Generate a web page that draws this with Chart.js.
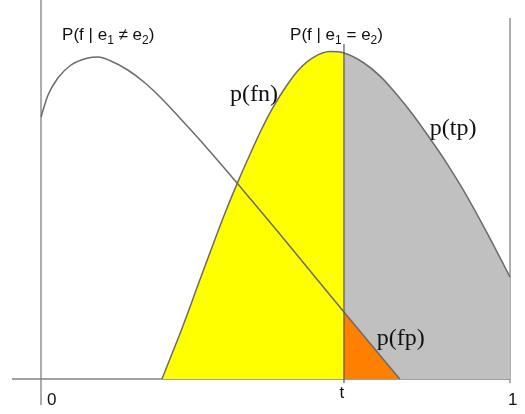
<!DOCTYPE html>
<html>
<head>
<meta charset="utf-8">
<script src="https://cdn.jsdelivr.net/npm/chart.js@4/dist/chart.umd.min.js"></script>
<style>
  html, body { margin: 0; padding: 0; background: #fff; }
  #chart { display: block; }
</style>
</head>
<body>
<canvas id="chart" width="525" height="414"></canvas>
<script>
// threshold on the score axis (0..1)
const threshold = 0.646;

// P(f | e1 != e2) : score x, density y
const diffX = [0, 0.015, 0.036, 0.064, 0.100, 0.122, 0.149, 0.185, 0.222, 0.256, 0.296, 0.335, 0.418, 0.495, 0.567, 0.646, 0.765];
const diffY = [2.62, 2.84, 3.01, 3.14, 3.21, 3.22, 3.18, 3.09, 2.96, 2.81, 2.61, 2.41, 1.96, 1.53, 1.12, 0.67, 0];

// P(f | e1 = e2)
const sameX = [0.258, 0.303, 0.339, 0.392, 0.420, 0.446, 0.467, 0.495, 0.525, 0.552, 0.580, 0.616, 0.646, 0.687, 0.723, 0.759, 0.793, 0.829, 0.866, 0.900, 0.951, 1.0];
const sameY = [0, 0.535, 0.994, 1.655, 1.974, 2.25, 2.465, 2.718, 2.942, 3.104, 3.214, 3.274, 3.26, 3.165, 3.029, 2.842, 2.642, 2.407, 2.152, 1.893, 1.461, 1.02];

// tick labels under the axis
const tickValues = [0, threshold, 1];
const tickLabels = ['0', 't', '1'];

const toPoints = (xs, ys) => xs.map((x, i) => ({ x: x, y: ys[i] }));
const samePts = toPoints(sameX, sameY);
const diffPts = toPoints(diffX, diffY);

const LINE = '#6b6b6b';
const SANS = '"Liberation Sans", Arial, sans-serif';
const SERIF = '"Liberation Serif", "Times New Roman", serif';

// text labels, anchored in data coordinates
const labels = [
    { parts: [['P(f | e'], ['1', 1], [' \u2260 e'], ['2', 1], [')']], x: 0.045, y: 3.39, font: '17px ' + SANS },
    { parts: [['P(f | e'], ['1', 1], [' = e'], ['2', 1], [')']], x: 0.531, y: 3.39, font: '17px ' + SANS },
    { parts: [['p(fn)']], x: 0.403, y: 2.78, font: '24px ' + SERIF },
    { parts: [['p(tp)']], x: 0.829, y: 2.44, font: '24px ' + SERIF },
    { parts: [['p(fp)']], x: 0.716, y: 0.34, font: '24px ' + SERIF }
];

const textPlugin = {
    id: 'textLabels',
    afterDatasetsDraw(chart) {
        const ctx = chart.ctx;
        const xs = chart.scales.x, ys = chart.scales.y;
        ctx.save();
        ctx.fillStyle = '#111';
        ctx.textBaseline = 'alphabetic';

        labels.forEach(lab => {
            let px = xs.getPixelForValue(lab.x);
            const py = ys.getPixelForValue(lab.y);
            lab.parts.forEach(([txt, sub]) => {
                if (sub) {
                    ctx.font = '12px ' + SANS;
                    ctx.fillText(txt, px, py + 4);
                } else {
                    ctx.font = lab.font;
                    ctx.fillText(txt, px, py);
                }
                px += ctx.measureText(txt).width;
            });
        });

        // axis tick labels
        ctx.font = '17px ' + SANS;
        tickValues.forEach((v, i) => {
            const px = xs.getPixelForValue(v);
            const isT = tickLabels[i] === 't';
            ctx.textAlign = isT ? 'center' : 'left';
            const off = tickLabels[i] === '0' ? 6 : -2;
            ctx.fillText(tickLabels[i], px + off, ys.getPixelForValue(isT ? -0.19 : -0.26));
        });
        ctx.restore();
    }
};

const lineDs = (data, extra) => Object.assign({
    data: data,
    borderColor: LINE,
    borderWidth: 1.5,
    pointRadius: 0,
    fill: false,
    cubicInterpolationMode: 'monotone',
    clip: false
}, extra);

new Chart(document.getElementById('chart'), {
    type: 'line',
    data: {
        datasets: [
            // threshold line
            lineDs([{ x: threshold, y: -0.04 }, { x: threshold, y: 3.35 }], { borderColor: '#555', borderWidth: 1.2 }),
            // P(f | e1 != e2) curve
            lineDs(diffPts),
            // p(fp): area under the diff curve right of t
            lineDs(diffPts.filter(p => p.x >= threshold), { borderWidth: 0, fill: 'origin', backgroundColor: '#ff8000' }),
            // P(f | e1 = e2) curve
            lineDs(samePts),
            // p(tp)
            lineDs(samePts.filter(p => p.x >= threshold), { borderWidth: 0, fill: 'origin', backgroundColor: '#c0c0c0' }),
            // p(fn)
            lineDs(samePts.filter(p => p.x <= threshold), { borderWidth: 0, fill: 'origin', backgroundColor: '#ffff00' }),
            // axes
            lineDs([{ x: -0.062, y: 0 }, { x: 1, y: 0 }], { borderColor: '#808080', borderWidth: 1.3 }),
            lineDs([{ x: 0, y: -0.26 }, { x: 0, y: 3.79 }], { borderColor: '#808080', borderWidth: 1.3 }),
            lineDs([{ x: 1, y: -0.04 }, { x: 1, y: 3.61 }], { borderColor: '#808080', borderWidth: 1.3 })
        ]
    },
    options: {
        responsive: false,
        animation: false,
        layout: { padding: 0 },
        plugins: { legend: { display: false }, tooltip: { enabled: false } },
        scales: {
            x: { type: 'linear', display: false, min: -41 / 469, max: 484 / 469 },
            y: { type: 'linear', display: false, min: -0.35, max: 3.79 }
        }
    },
    plugins: [textPlugin]
});
</script>
</body>
</html>
